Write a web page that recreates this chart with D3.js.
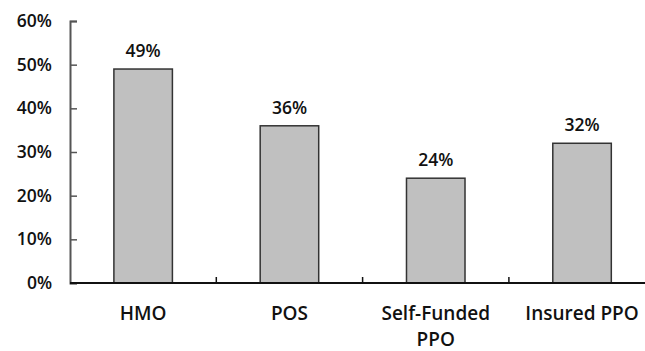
<!DOCTYPE html>
<html>
<head>
<meta charset="utf-8">
<script src="https://cdn.jsdelivr.net/npm/d3@7"></script>
<style>
  html, body { margin: 0; padding: 0; background: #fff; }
  svg text { font-family: "Open Sans", Lato, sans-serif; font-weight: 600; fill: #111; }
</style>
</head>
<body>
<svg id="chart" width="645" height="351"></svg>
<script>
// Share of plans by type
const categories = ["HMO", "POS", "Self-Funded PPO", "Insured PPO"];
const values = [49, 36, 24, 32];
const yTicks = [0, 10, 20, 30, 40, 50, 60];

const svg = d3.select("#chart");
const margin = { left: 70, top: 21, bottom: 283 };
const bandWidth = 146.3;
const fontSize = 17.5;
const catFontSize = 19;

const x = d3.scaleBand()
  .domain(categories)
  .range([margin.left, margin.left + bandWidth * categories.length])
  .paddingInner(0.6).paddingOuter(0.3);

const y = d3.scaleLinear().domain([0, 60]).range([margin.bottom, margin.top]);

// y axis with ticks pointing into the plot
const yAxis = svg.append("g").attr("transform", `translate(${margin.left},0)`)
  .call(d3.axisLeft(y).tickValues(yTicks).tickFormat(d => d + "%").tickSize(-7));
yAxis.select(".domain").attr("stroke", "#555").attr("stroke-width", 2);
yAxis.selectAll(".tick line").attr("stroke", "#555").attr("stroke-width", 1.5);
yAxis.selectAll(".tick text").attr("font-size", fontSize).attr("text-anchor", "end").attr("x", -18);

// bars
svg.append("g").selectAll("rect").data(values).join("rect")
  .attr("x", (d, i) => x(categories[i]))
  .attr("y", d => y(d))
  .attr("width", x.bandwidth())
  .attr("height", d => y(0) - y(d))
  .attr("fill", "#c0c0c0")
  .attr("stroke", "#333")
  .attr("stroke-width", 1.5);

// value labels
svg.append("g").selectAll("text").data(values).join("text")
  .attr("x", (d, i) => x(categories[i]) + x.bandwidth() / 2)
  .attr("y", d => y(d) - 12)
  .attr("text-anchor", "middle")
  .attr("font-size", fontSize)
  .text(d => d + "%");

// x axis baseline and category boundary ticks
const xRange = x.range();
svg.append("line")
  .attr("x1", margin.left).attr("x2", xRange[1])
  .attr("y1", y(0)).attr("y2", y(0))
  .attr("stroke", "#111").attr("stroke-width", 2);
const gap = (x.step() - x.bandwidth()) / 2;
svg.append("g").selectAll("line").data(categories.slice(1)).join("line")
  .attr("x1", d => x(d) - gap)
  .attr("x2", d => x(d) - gap)
  .attr("y1", y(0)).attr("y2", y(0) - 6)
  .attr("stroke", "#111").attr("stroke-width", 1.5);

// category labels, wrapped onto two lines where needed
const labelLines = { "Self-Funded PPO": ["Self-Funded", "PPO"] };
const catG = svg.append("g");
categories.forEach(c => {
  const lines = labelLines[c] || [c];
  const cx = x(c) + x.bandwidth() / 2;
  const t = catG.append("text")
    .attr("x", cx)
    .attr("y", 320)
    .attr("text-anchor", "middle")
    .attr("font-size", catFontSize);
  lines.forEach((l, i) => {
    t.append("tspan").attr("x", cx).attr("dy", i === 0 ? 0 : 25.5).text(l);
  });
});
</script>
</body>
</html>
